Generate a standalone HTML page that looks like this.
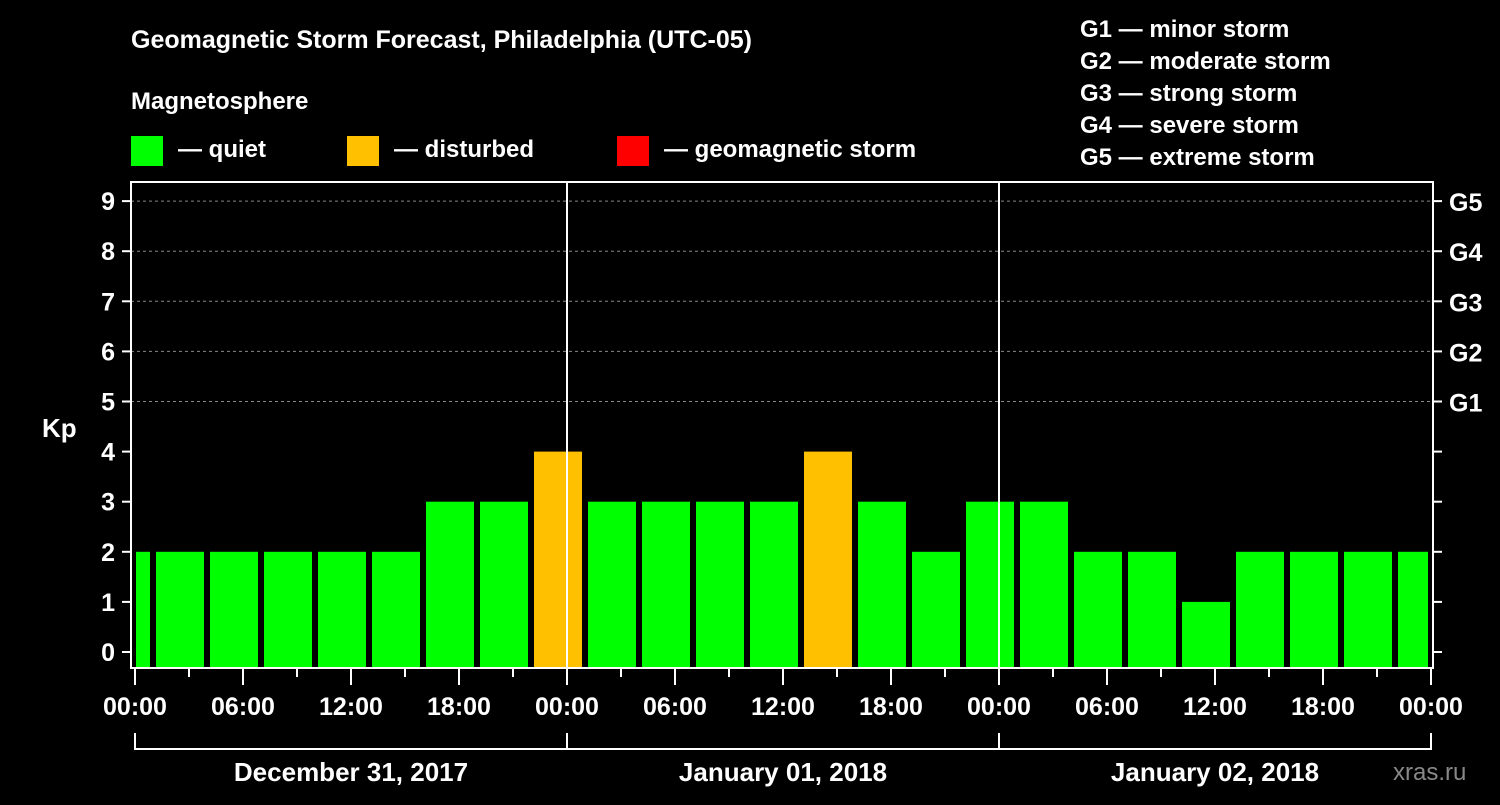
<!DOCTYPE html>
<html><head><meta charset="utf-8"><style>
body{margin:0;background:#000;width:1500px;height:800px;overflow:hidden}
svg text{font-family:"Liberation Sans",sans-serif;font-weight:bold;fill:#fff}
</style></head><body>
<svg id="c" width="1500" height="800">
<text x="131" y="48" font-size="25">Geomagnetic Storm Forecast, Philadelphia (UTC-05)</text>
<text x="131" y="109" font-size="24">Magnetosphere</text>
<rect x="131" y="136" width="32" height="30" fill="#00ff00"/>
<text x="178" y="157" font-size="24">— quiet</text>
<rect x="347" y="136" width="32" height="30" fill="#ffc000"/>
<text x="394" y="157" font-size="24">— disturbed</text>
<rect x="617" y="136" width="32" height="30" fill="#ff0000"/>
<text x="664" y="157" font-size="24">— geomagnetic storm</text>
<g font-size="24">
<text x="1080" y="37">G1 — minor storm</text>
<text x="1080" y="69">G2 — moderate storm</text>
<text x="1080" y="101">G3 — strong storm</text>
<text x="1080" y="133">G4 — severe storm</text>
<text x="1080" y="165">G5 — extreme storm</text>
</g>
<text x="42" y="437" font-size="26">Kp</text>
<text x="1393" y="780" font-size="24" fill="#888" style="fill:#888;font-weight:normal">xras.ru</text>
<g id="plot"></g>
</svg>
<script>
const values=[2,2,2,2,2,2,3,3,4,3,3,3,3,4,3,2,3,3,2,2,1,2,2,2,2];
const hourTicks=["00:00","06:00","12:00","18:00","00:00","06:00","12:00","18:00","00:00","06:00","12:00","18:00","00:00"];
const dayLabels=["December 31, 2017","January 01, 2018","January 02, 2018"];
const gLabels=["G1","G2","G3","G4","G5"];
const X0=135,PX_H=18,L=131,R=1433,T=182,B=668;
const x=h=>X0+h*PX_H;
const y=k=>652-k*50.1;
const g=document.getElementById('plot');
const ns='http://www.w3.org/2000/svg';
function mk(t,a){const e=document.createElementNS(ns,t);for(const k in a)e.setAttribute(k,a[k]);g.appendChild(e);return e;}
// grid
for(let k=5;k<=9;k++){const e=mk('line',{x1:L,x2:R,y1:y(k),y2:y(k),stroke:'#888','stroke-dasharray':'3,3','stroke-width':1});

}
// bars: bins start at -2h, every 3h
values.forEach((v,i)=>{let s=x(-2+3*i),e=s+54;s=Math.max(s,X0);e=Math.min(e,x(72));
const col=v>=5?'#ff0000':v>=4?'#ffc000':'#00ff00';
const r=mk('rect',{x:s+3-(i==0?2:0),y:y(v),width:e-s-6+(i==0?2:0),height:B-y(v),fill:col});

});
// day lines
[24,48].forEach(h=>{const e=mk('line',{x1:x(h),x2:x(h),y1:T,y2:B,stroke:'#fff','stroke-width':2});

});
const box=mk('rect',{x:L,y:T,width:R-L,height:B-T,fill:'none',stroke:'#fff','stroke-width':2});


for(let k=0;k<=9;k++){
mk('line',{x1:L-9,x2:L,y1:y(k),y2:y(k),stroke:'#fff','stroke-width':2});
mk('line',{x1:R,x2:R+9,y1:y(k),y2:y(k),stroke:'#fff','stroke-width':2});
const t=mk('text',{x:L-16,y:y(k)+9,'font-size':25,'text-anchor':'end'});t.textContent=k;


if(k>=5){const gt=mk('text',{x:R+16,y:y(k)+10,'font-size':25});gt.textContent=gLabels[k-5];

}}
for(let h=0;h<=72;h+=3){const major=h%6==0;mk('line',{x1:x(h),x2:x(h),y1:B,y2:B+(major?17:9),stroke:'#fff','stroke-width':2});}
hourTicks.forEach((s,i)=>{const t=mk('text',{x:x(i*6),y:715,'font-size':25,'text-anchor':'middle'});t.textContent=s;

});
mk('line',{x1:x(0),x2:x(72),y1:749,y2:749,stroke:'#fff','stroke-width':2});
[0,24,48,72].forEach(h=>mk('line',{x1:x(h),x2:x(h),y1:733,y2:750,stroke:'#fff','stroke-width':2}));
dayLabels.forEach((s,i)=>{const t=mk('text',{x:x(i*24+12),y:781,'font-size':26,'text-anchor':'middle'});t.textContent=s;

});
</script>
</body></html>
